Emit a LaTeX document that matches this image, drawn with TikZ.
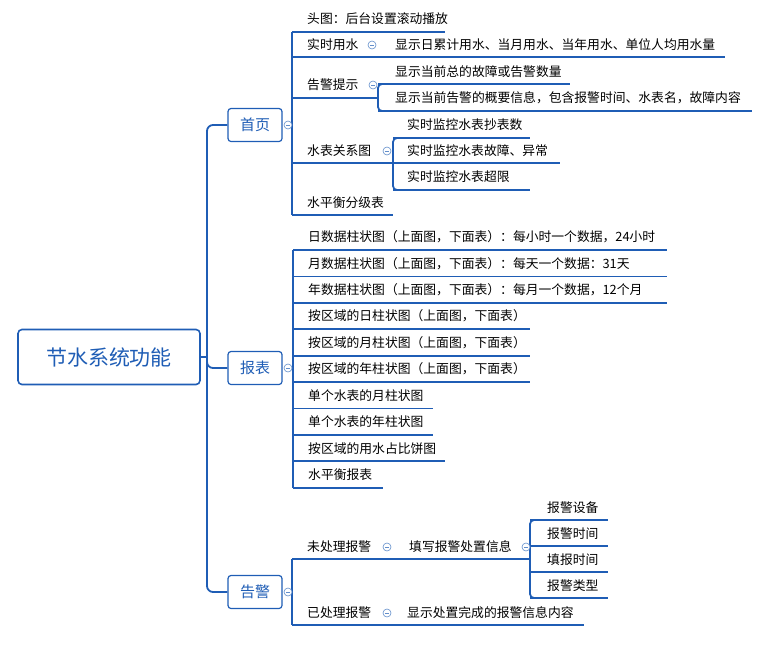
\documentclass[tikz,border=0pt]{standalone}
\usepackage{fontspec}
\setmainfont{Noto Sans CJK SC}
\usetikzlibrary{positioning,calc}
\definecolor{mapblue}{HTML}{1F5DB5}

\begin{document}
\begin{tikzpicture}[
    x=1pt, y=-1pt,
    topic/.style={anchor=west, inner sep=0pt, font=\fontsize{12.8}{14}\selectfont},
    root/.style={rectangle, rounded corners=4pt, draw=mapblue, line width=1.6pt, minimum width=182pt, minimum height=55pt, text=mapblue, font=\fontsize{21}{24}\selectfont},
    branch/.style={rectangle, rounded corners=3pt, draw=mapblue, line width=1.2pt, minimum width=54pt, minimum height=33pt, text=mapblue, font=\fontsize{15}{18}\selectfont},
    link/.style={draw=mapblue, line width=1.8pt},
    fold/.style={circle, draw=mapblue!70, line width=0.6pt, minimum size=8pt, inner sep=0pt, fill=white,
        path picture={\draw[mapblue!70, line width=0.6pt] ($(path picture bounding box.west)+(2pt,0)$) -- ($(path picture bounding box.east)+(-2pt,0)$);}}
]
\useasboundingbox (0,0) rectangle (772,646);

% Root and main branches
\node[root] (root) at (109,357) {节水系统功能};
\node[branch] (home) at (255,125) {首页};
\node[branch] (report) at (255,368) {报表};
\node[branch] (alarm) at (255,592) {告警};

\draw[link, rounded corners=6pt] (home.west) -| (207,357) |- (alarm.west);
\draw[link] (root.east) -- (207,357);
\draw[link, rounded corners=6pt] (207,357) |- (report.west);

% Home page
\node[topic] (banner) at (307,19) {头图：后台设置滚动播放};
\node[topic] (realtime) at (307,45) {实时用水};
\node[topic] (realtimeinfo) at (395,45) {显示日累计用水、当月用水、当年用水、单位人均用水量};
\node[topic] (warn) at (307,85) {告警提示};
\node[topic] (warnsum) at (395,72) {显示当前总的故障或告警数量};
\node[topic] (warninfo) at (395,98) {显示当前告警的概要信息，包含报警时间、水表名，故障内容};
\node[topic] (meter) at (307,151) {水表关系图};
\node[topic] (meterread) at (407,125) {实时监控水表抄表数};
\node[topic] (meterfault) at (407,151) {实时监控水表故障、异常};
\node[topic] (meterlimit) at (407,177) {实时监控水表超限};
\node[topic] (balance) at (307,203) {水平衡分级表};

\draw[link] (292,32) -- (292,215);
\draw[link] (292,32) -- (445,32);
\draw[link] (292,57) -- (725,57);
\draw[link] (292,98) -- (378,98);
\draw[link, rounded corners=4pt] (386,84) -- (378,84) -- (378,111) -- (386,111);
\draw[link] (378,84) -- (570,84);
\draw[link] (378,111) -- (752,111);
\draw[link] (292,163) -- (393,163);
\draw[link, rounded corners=4pt] (401,138) -- (393,138) -- (393,190) -- (401,190);
\draw[link] (393,138) -- (530,138);
\draw[link] (393,163) -- (560,163);
\draw[link] (393,190) -- (530,190);
\draw[link] (292,215) -- (393,215);

% Reports
\foreach \i/\txt/\len in {
    0/日数据柱状图（上面图，下面表）：每小时一个数据，24小时/667,
    1/月数据柱状图（上面图，下面表）：每天一个数据：31天/667,
    2/年数据柱状图（上面图，下面表）：每月一个数据，12个月/667,
    3/按区域的日柱状图（上面图，下面表）/530,
    4/按区域的月柱状图（上面图，下面表）/530,
    5/按区域的年柱状图（上面图，下面表）/530,
    6/单个水表的月柱状图/433,
    7/单个水表的年柱状图/433,
    8/按区域的用水占比饼图/445,
    9/水平衡报表/383} {
  \node[topic] (rep\i) at (308,237+26.4*\i) {\txt};
  \draw[link] (293,250+26.4*\i) -- (\len,250+26.4*\i);
}
\draw[link] (293,250) -- (293,487.6);

% Alarms
\node[topic] (open) at (307,547) {未处理报警};
\node[topic] (fillin) at (409,547) {填写报警处置信息};
\node[topic] (device) at (547,508) {报警设备};
\node[topic] (alarmtime) at (547,534) {报警时间};
\node[topic] (filltime) at (547,560) {填报时间};
\node[topic] (alarmtype) at (547,586) {报警类型};
\node[topic] (closed) at (307,613) {已处理报警};
\node[topic] (closedinfo) at (407,613) {显示处置完成的报警信息内容};

\draw[link] (292,559) -- (292,625);
\draw[link] (292,559) -- (530,559);
\draw[link] (292,625) -- (584,625);
\draw[link, rounded corners=4pt] (538,520) -- (530,520) -- (530,598) -- (538,598);
\draw[link] (530,520) -- (608,520);
\draw[link] (530,546) -- (608,546);
\draw[link] (530,572) -- (608,572);
\draw[link] (530,598) -- (608,598);

% Fold markers
\node[fold] (foldhome) at (288,125) {};
\node[fold] (foldreport) at (288,368) {};
\node[fold] (foldalarm) at (288,592) {};
\node[fold] (foldrt) at (372,45) {};
\node[fold] (foldwarn) at (373,85) {};
\node[fold] (foldmeter) at (387,151) {};
\node[fold] (foldopen) at (387,547) {};
\node[fold] (foldfill) at (526,547) {};
\node[fold] (foldclosed) at (387,613) {};

\end{tikzpicture}
\end{document}
